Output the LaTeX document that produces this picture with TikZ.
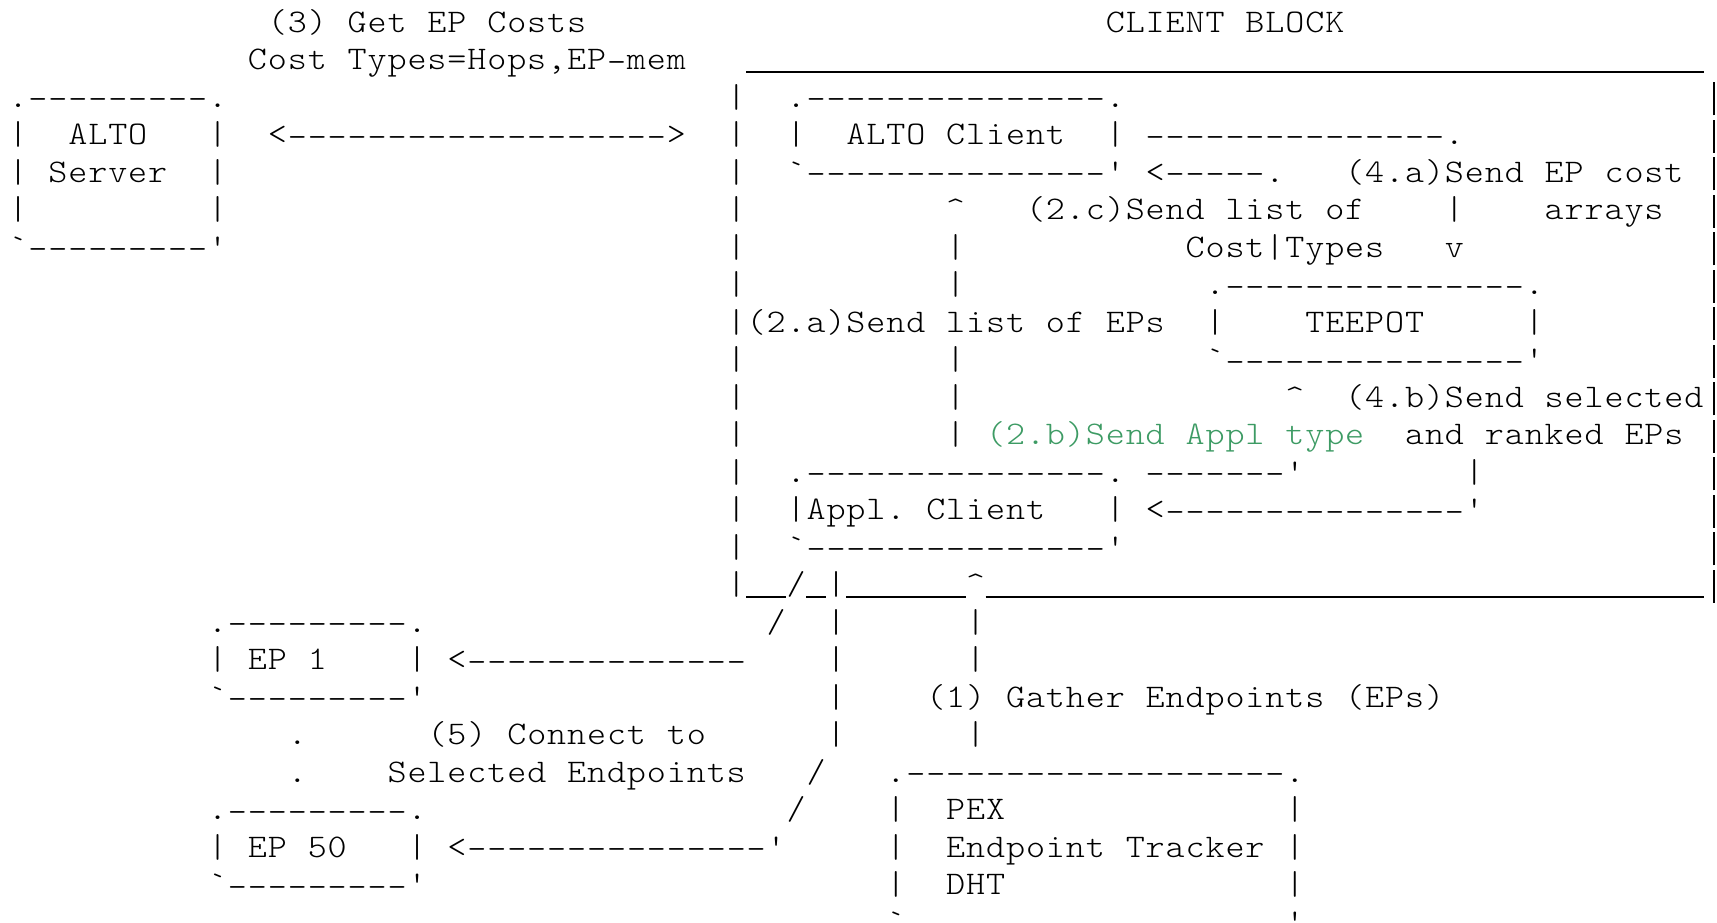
\documentclass[tikz,border=0pt]{standalone}
\usepackage{fontspec}
\usepackage{graphicx}
\usepackage{xcolor}
\newfontfamily\ascfont{lmmonolt10-regular.otf}
\definecolor{grn}{RGB}{61,155,100}
\ExplSyntaxOn
\NewDocumentCommand\monostr{m}{\str_map_inline:nn{#1}{\str_case:nnF{##1}{{_}{\rule[-3.6pt]{19.95pt}{1.8pt}}{-}{\makebox[19.95pt][c]{\raisebox{-2.5pt}{\scalebox{1.1}[1]{-}}}}}{\makebox[19.95pt][c]{\scalebox{1.1}[1]{##1}}}}}
\ExplSyntaxOff
\tikzset{txt/.style={anchor=base west, inner sep=0pt, outer sep=0pt,
  font=\fontsize{33pt}{37.5pt}\selectfont\ascfont}}
\newcommand\seg[5][black]{\node[txt,text=#1] (#2) at ({8.1+19.95*#4},{32+37.5*#3}) {\monostr{#5}};}
\newcommand\rbar[2]{\node[txt,anchor=base] (#1) at ({18.1+19.95*85},{32+37.5*#2}) {\rule[-8.25pt]{1.6pt}{33pt}};}
\begin{document}
\begin{tikzpicture}[x=1pt,y=-1pt]
\fill[white] (0,0) rectangle (1717,922);
\useasboundingbox (0,0) rectangle (1717,922);
\clip (0,0) rectangle (1717,922);
% row 0
\seg{t3}{0}{13}{(3) Get EP Costs}
\seg{cb}{0}{55}{CLIENT BLOCK}
% row 1
\seg{t3b}{1}{12}{Cost Types=Hops,EP-mem}
\seg{top}{1}{37}{________________________________________________}
% row 2
\seg{sva}{2}{0}{.---------.}
\seg{Lb}{2}{36}{|}
\seg{aca}{2}{39}{.---------------.}
\rbar{Rb}{2}
% row 3
\seg{svb}{3}{0}{|}
\seg{svt}{3}{3}{ALTO}
\seg{svc}{3}{10}{|}
\seg{arr}{3}{13}{<------------------->}
\seg{Lc}{3}{36}{|}
\seg{acb}{3}{39}{|}
\seg{act}{3}{42}{ALTO Client}
\seg{acc}{3}{55}{|}
\seg{afa}{3}{57}{---------------.}
\rbar{Rc}{3}
% row 4
\seg{svd}{4}{0}{|}
\seg{svs}{4}{2}{Server}
\seg{sve}{4}{10}{|}
\seg{Ld}{4}{36}{|}
\seg{acd}{4}{39}{`---------------'}
\seg{aca2}{4}{57}{<-----.}
\seg{lfa}{4}{67}{(4.a)Send EP cost}
\rbar{Rd}{4}
% row 5
\seg{svf}{5}{0}{|}
\seg{svg}{5}{10}{|}
\seg{Le}{5}{36}{|}
\seg{ata}{5}{47}{^}
\seg{ltc}{5}{51}{(2.c)Send list of}
\seg{afb}{5}{72}{|}
\seg{lfb}{5}{77}{arrays}
\rbar{Re}{5}
% row 6
\seg{svh}{6}{0}{`---------'}
\seg{Lf}{6}{36}{|}
\seg{atb}{6}{47}{|}
\seg{ltc2}{6}{59}{Cost|Types}
\seg{afc}{6}{72}{v}
\rbar{Rf}{6}
% row 7
\seg{Lg}{7}{36}{|}
\seg{atc}{7}{47}{|}
\seg{tpa}{7}{60}{.---------------.}
\rbar{Rg}{7}
% row 8
\seg{lta}{8}{36}{|(2.a)Send list of EPs}
\seg{tpb}{8}{60}{|}
\seg{tpt}{8}{65}{TEEPOT}
\seg{tpc}{8}{76}{|}
\rbar{Rh}{8}
% row 9
\seg{Li}{9}{36}{|}
\seg{atd}{9}{47}{|}
\seg{tpd}{9}{60}{`---------------'}
\rbar{Ri}{9}
% row 10
\seg{Lj}{10}{36}{|}
\seg{ate}{10}{47}{|}
\seg{aba}{10}{64}{^}
\seg{lfb1}{10}{67}{(4.b)Send selected}
\rbar{Rj}{10}
% row 11
\seg{Lk}{11}{36}{|}
\seg{atf}{11}{47}{|}
\seg[grn]{ltb}{11}{49}{(2.b)Send Appl type}
\seg{lfb2}{11}{70}{and ranked EPs}
\rbar{Rk}{11}
% row 12
\seg{Ll}{12}{36}{|}
\seg{apa}{12}{39}{.---------------.}
\seg{abb}{12}{57}{-------'}
\seg{abc}{12}{73}{|}
\rbar{Rl}{12}
% row 13
\seg{Lm}{13}{36}{|}
\seg{apb}{13}{39}{|Appl. Client}
\seg{apc}{13}{55}{|}
\seg{abd}{13}{57}{<---------------'}
\rbar{Rm}{13}
% row 14
\seg{Ln}{14}{36}{|}
\seg{apd}{14}{39}{`---------------'}
\rbar{Rn}{14}
% row 15
\seg{bot}{15}{36}{|__/_|______^____________________________________}
\rbar{Ro}{15}
% row 16
\seg{epa}{16}{10}{.---------.}
\seg{afv1}{16}{38}{/}
\seg{aoa}{16}{41}{|}
\seg{ga}{16}{48}{|}
% row 17
\seg{epb}{17}{10}{|}
\seg{ept}{17}{12}{EP 1}
\seg{epc}{17}{20}{|}
\seg{afv2}{17}{22}{<--------------}
\seg{aob}{17}{41}{|}
\seg{gb}{17}{48}{|}
% row 18
\seg{epd}{18}{10}{`---------'}
\seg{aoc}{18}{41}{|}
\seg{lg}{18}{46}{(1) Gather Endpoints (EPs)}
% row 19
\seg{dta}{19}{14}{.}
\seg{lca}{19}{21}{(5) Connect to}
\seg{aod}{19}{41}{|}
\seg{gc}{19}{48}{|}
% row 20
\seg{dtb}{20}{14}{.}
\seg{lcb}{20}{19}{Selected Endpoints}
\seg{aoe}{20}{40}{/}
\seg{pxa}{20}{44}{.-------------------.}
% row 21
\seg{efa}{21}{10}{.---------.}
\seg{aof}{21}{39}{/}
\seg{pxb}{21}{44}{|}
\seg{pxt}{21}{47}{PEX}
\seg{pxc}{21}{64}{|}
% row 22
\seg{efb}{22}{10}{|}
\seg{eft}{22}{12}{EP 50}
\seg{efc}{22}{20}{|}
\seg{aog}{22}{22}{<---------------'}
\seg{pxd}{22}{44}{|}
\seg{pxt2}{22}{47}{Endpoint Tracker}
\seg{pxe}{22}{64}{|}
% row 23
\seg{efd}{23}{10}{`---------'}
\seg{pxf}{23}{44}{|}
\seg{pxt3}{23}{47}{DHT}
\seg{pxg}{23}{64}{|}
% row 24
\seg{pxh}{24}{44}{`-------------------'}
\end{tikzpicture}
\end{document}
